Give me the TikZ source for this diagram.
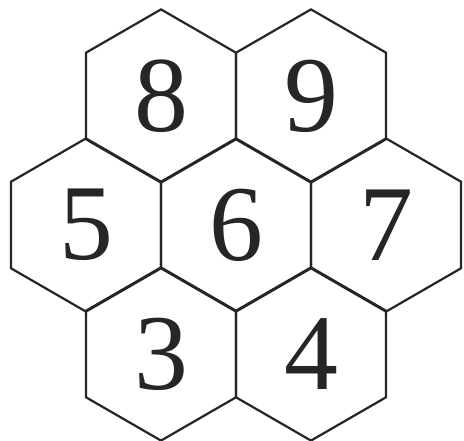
\documentclass[tikz,border=0pt]{standalone}
\usepackage{fontspec}
\newfontfamily\cellfont{Liberation Serif}
\usetikzlibrary{shapes.geometric}
\begin{document}
\begin{tikzpicture}[x=0.03cm, y=-0.03cm,
    hexcell/.style={draw=black!85, line width=1.9pt, regular polygon, regular polygon sides=6,
        shape border rotate=30, minimum size=5.196cm, inner sep=0pt, outer sep=0pt,
        text=black!85, font=\cellfont\fontsize{92}{92}\selectfont}]
        \useasboundingbox (0,0) rectangle (464,441);

        % Top row
        \node[hexcell] (h8) at (161,96) {8};
        \node[hexcell] (h9) at (311,96) {9};

        % Middle row
        \node[hexcell] (h5) at (86,225) {5};
        \node[hexcell] (h6) at (236,225) {6};
        \node[hexcell] (h7) at (386,225) {7};

        % Bottom row
        \node[hexcell] (h3) at (161,354) {3};
        \node[hexcell] (h4) at (311,354) {4};
    \end{tikzpicture}
\end{document}
